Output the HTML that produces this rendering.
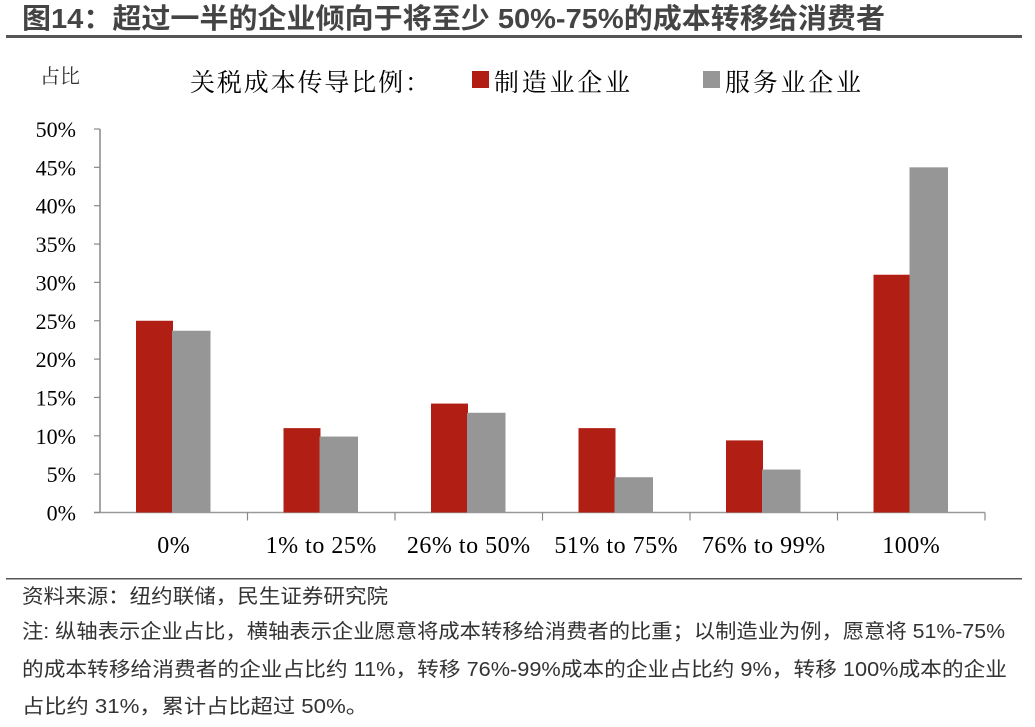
<!DOCTYPE html>
<html><head><meta charset="utf-8"><style>
body{margin:0;background:#fff;width:1035px;height:722px;overflow:hidden;font-family:"Liberation Serif","Noto Serif CJK SC",serif;}
svg text{font-family:"Liberation Serif","Noto Serif CJK SC",serif;}
</style></head><body>
<svg width="1035" height="722">
<text x="22" y="28" font-size="28" font-weight="bold" fill="#444" textLength="863" lengthAdjust="spacingAndGlyphs" style="font-family:'Liberation Sans','Noto Sans CJK SC',sans-serif">图14：超过一半的企业倾向于将至少 50%-75%的成本转移给消费者</text>
<rect x="6" y="35" width="1016" height="3" fill="#555"/>
<text x="40" y="83" font-size="20" fill="#333">占比</text>
<text x="190" y="91" font-size="25" fill="#000" textLength="240" lengthAdjust="spacing">关税成本传导比例：</text>
<rect x="472" y="71" width="17" height="17" fill="#b01e14"/>
<text x="494" y="91" font-size="25" fill="#000" textLength="136" lengthAdjust="spacing">制造业企业</text>
<rect x="703" y="71" width="17" height="17" fill="#969696"/>
<text x="725" y="91" font-size="25" fill="#000" textLength="136" lengthAdjust="spacing">服务业企业</text>
<g id="plot"></g>
<rect x="6" y="578" width="1016" height="1.5" fill="#555"/>
<g font-size="20" fill="#333">
<text x="22" y="603" textLength="366" lengthAdjust="spacingAndGlyphs" style="font-family:'Liberation Sans','Noto Sans CJK SC',sans-serif">资料来源：纽约联储，民生证券研究院</text>
<text x="22" y="638" textLength="983" lengthAdjust="spacingAndGlyphs" style="font-family:'Liberation Sans','Noto Sans CJK SC',sans-serif">注: 纵轴表示企业占比，横轴表示企业愿意将成本转移给消费者的比重；以制造业为例，愿意将 51%-75%</text>
<text x="22" y="676" textLength="985" lengthAdjust="spacingAndGlyphs" style="font-family:'Liberation Sans','Noto Sans CJK SC',sans-serif">的成本转移给消费者的企业占比约 11%，转移 76%-99%成本的企业占比约 9%，转移 100%成本的企业</text>
<text x="22" y="713" textLength="346" lengthAdjust="spacingAndGlyphs" style="font-family:'Liberation Sans','Noto Sans CJK SC',sans-serif">占比约 31%，累计占比超过 50%。</text>
</g>
</svg>
<script>
const categories=["0%","1% to 25%","26% to 50%","51% to 75%","76% to 99%","100%"];
const manufacturing=[25,11,14.2,11,9.4,31];
const services=[23.7,9.9,13,4.6,5.6,45];
const yTicks=[0,5,10,15,20,25,30,35,40,45,50];
const NS="http://www.w3.org/2000/svg";
const g=document.getElementById('plot');
const x0=100,x1=985,y0=512.5,yTop=129,yMax=50;
const cw=(x1-x0)/categories.length;
const y=v=>y0-(v/yMax)*(y0-yTop);
function mk(t,a){const e=document.createElementNS(NS,t);for(const k in a)e.setAttribute(k,a[k]);g.appendChild(e);return e;}
let e=mk('line',{x1:x0,y1:yTop,x2:x0,y2:y0,stroke:'#888','stroke-width':1.5});


e=mk('line',{x1:x0-6,y1:y0,x2:x1,y2:y0,stroke:'#999','stroke-width':1.5});


yTicks.forEach(t=>{
 const tk=mk('line',{x1:x0-6,y1:y(t),x2:x0,y2:y(t),stroke:'#888','stroke-width':1.2});
 
 
 const l=mk('text',{x:76,y:y(t)+8,'font-size':22,'text-anchor':'end',fill:'#000'});
 l.textContent=t+'%';
 
 
});
categories.forEach((c,i)=>{
 const cx=x0+cw*i;
 const tk=mk('line',{x1:cx+cw,y1:y0,x2:cx+cw,y2:y0+8,stroke:'#888','stroke-width':1.2});
 
 
 const b1=mk('rect',{x:cx+36,y:y(manufacturing[i]),width:37,height:y0-y(manufacturing[i]),fill:'#b01e14'});
 
 
 const b2=mk('rect',{x:cx+72,y:y(services[i]),width:38.5,height:y0-y(services[i]),fill:'#969696'});
 
 
 const l=mk('text',{x:cx+cw/2,y:553,'font-size':24,'text-anchor':'middle',fill:'#000','letter-spacing':'0.5'});
 l.textContent=c;
 
 
});
</script>
</body></html>
